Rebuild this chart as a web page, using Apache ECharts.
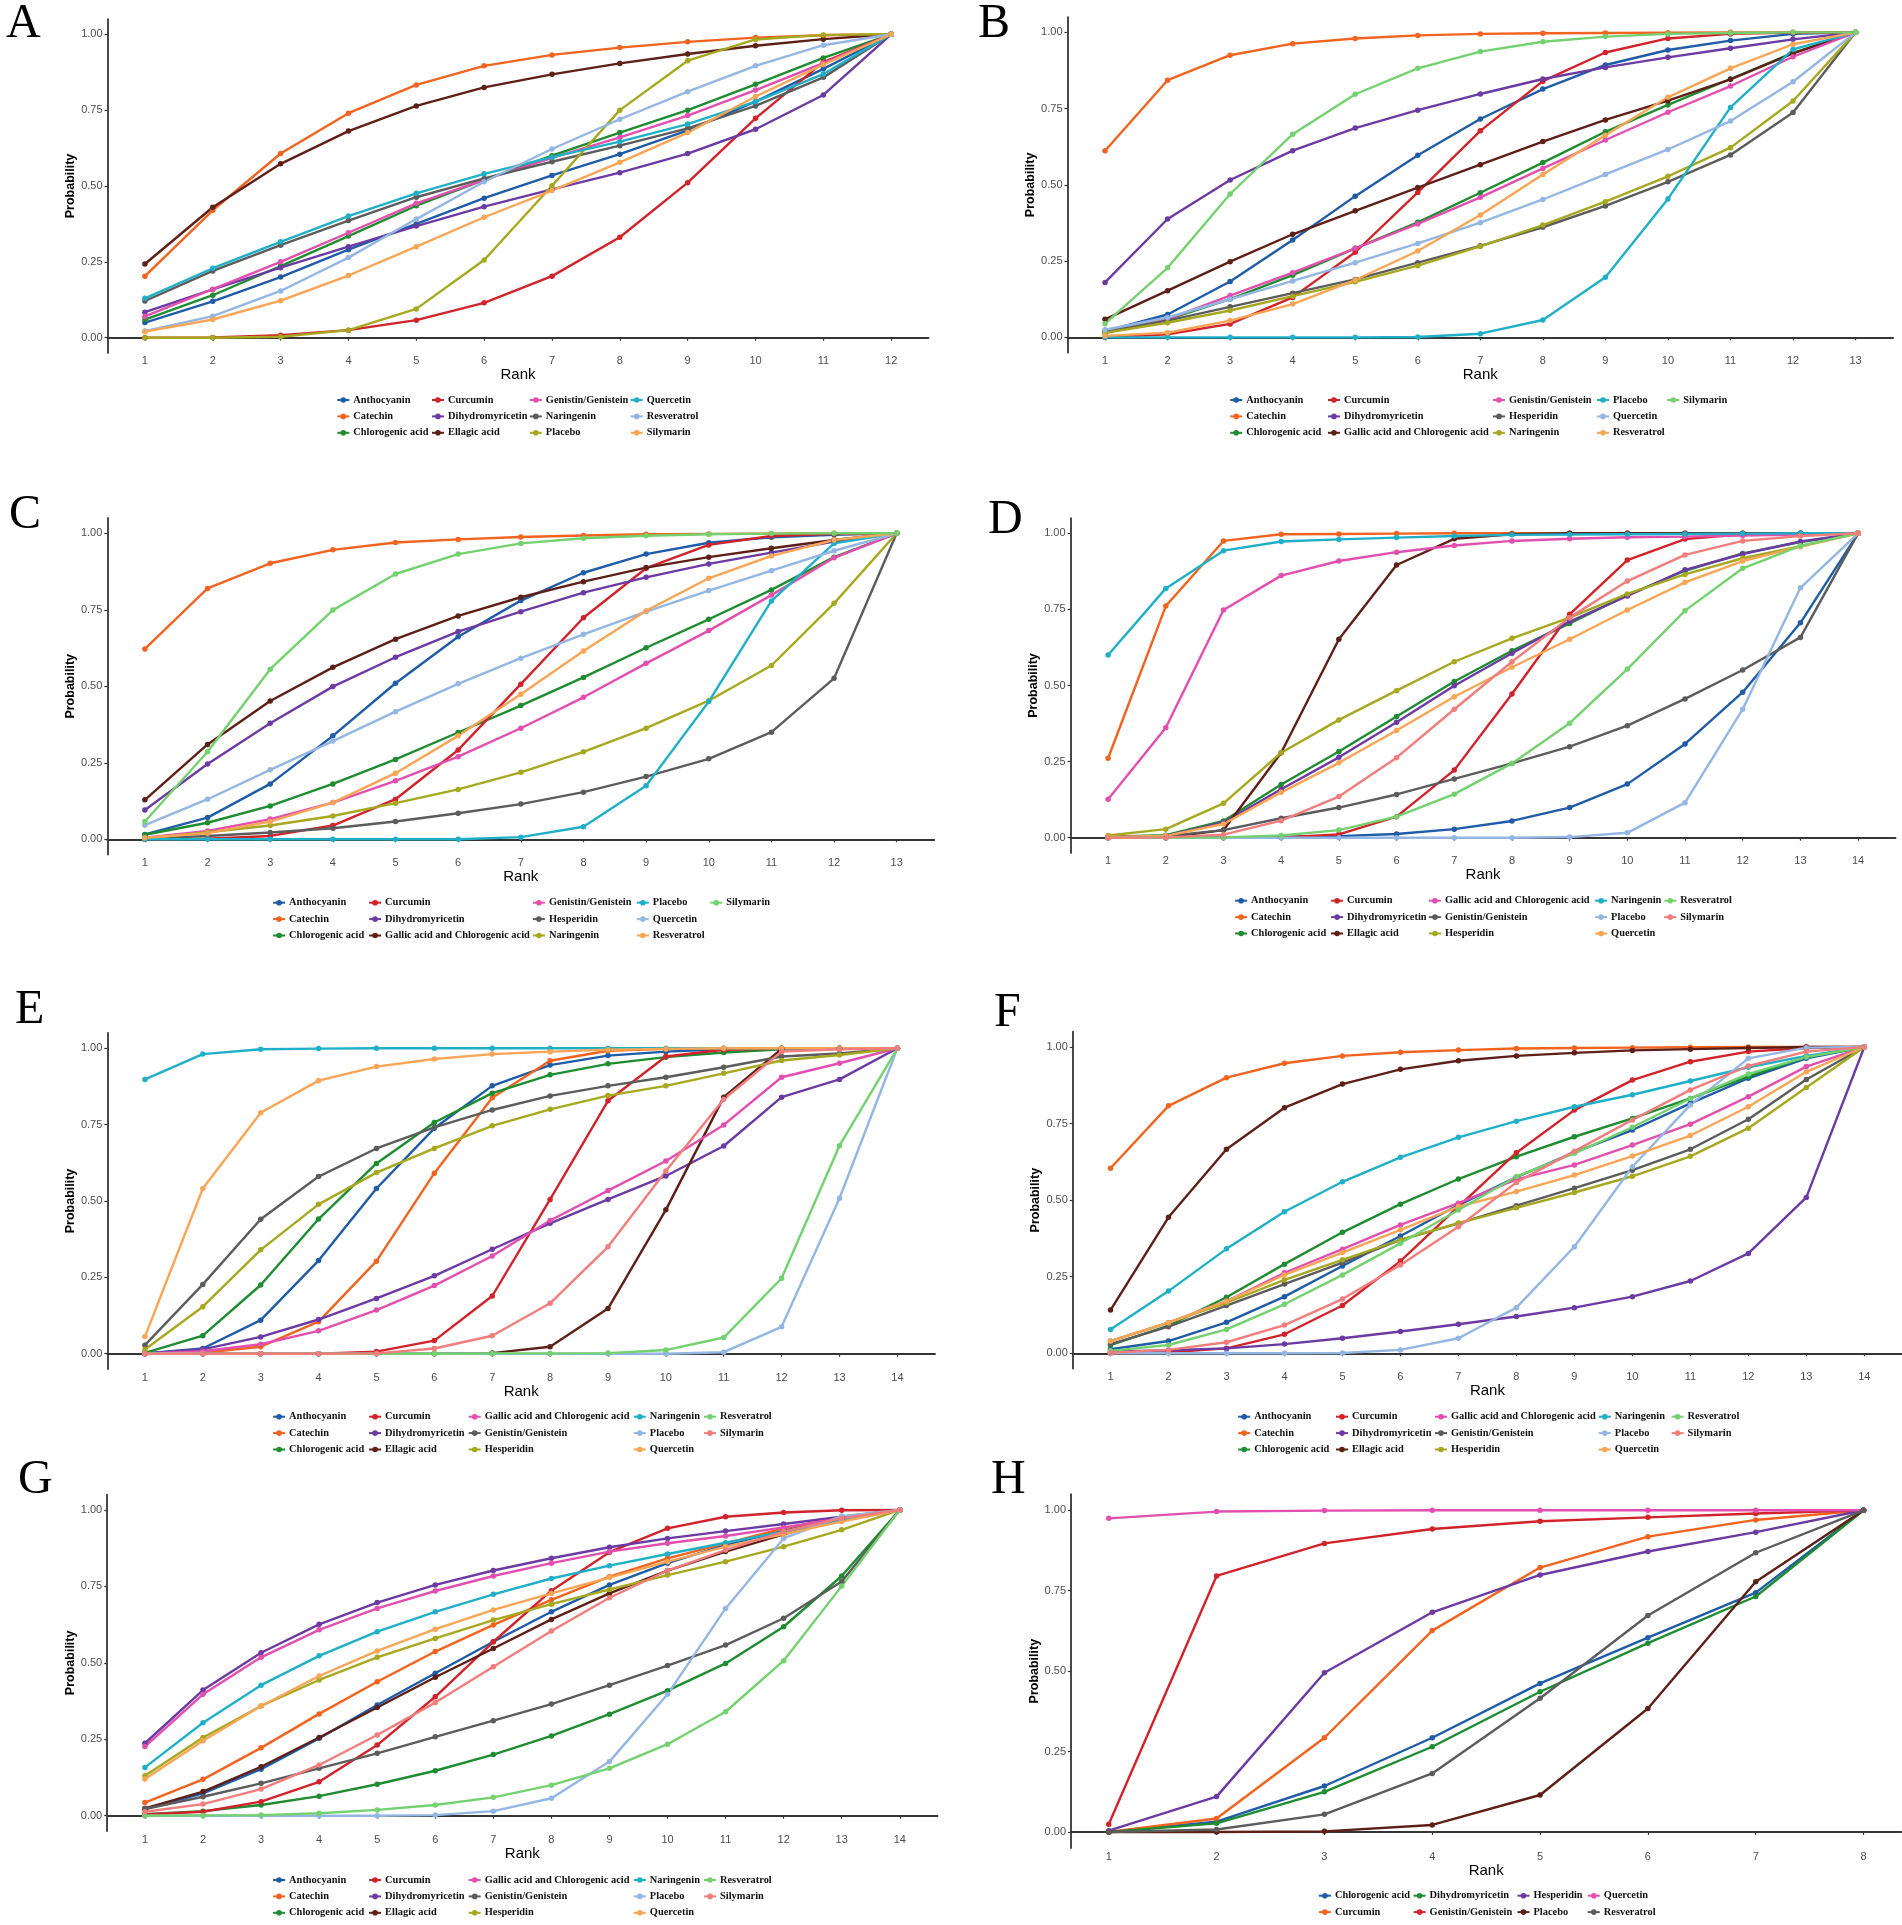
<!DOCTYPE html>
<html>
<head>
<meta charset="utf-8">
<script src="https://cdn.jsdelivr.net/npm/echarts@6/dist/echarts.min.js"></script>
<style>
html, body { margin: 0; padding: 0; background: #fff; overflow: hidden; }
#main { width: 1902px; height: 1925px; }
</style>
</head>
<body>
<div id="main"></div>
<script>
"use strict";

// colour order follows the alphabetical treatment order of each panel
var palette = ['#1F5CA8', '#F2631F', '#1E8C30', '#D2222A', '#6C3AA3', '#5E1F17', '#E24FAF',
	'#5C5C5C', '#A6A81F', '#1FB0C8', '#93B6E3', '#F8A555', '#74D16F', '#F27D7D'];

var yTicks = [0, 0.25, 0.5, 0.75, 1];

/* A : 12 treatments */
var ranksA = [1, 2, 3, 4, 5, 6, 7, 8, 9, 10, 11, 12];
var namesA = ['Anthocyanin', 'Catechin', 'Chlorogenic acid', 'Curcumin', 'Dihydromyricetin', 'Ellagic acid',
	'Genistin/Genistein', 'Naringenin', 'Placebo', 'Quercetin', 'Resveratrol', 'Silymarin'];
var valuesA = [
	[0.05, 0.12, 0.20, 0.29, 0.375, 0.46, 0.535, 0.605, 0.683, 0.778, 0.886, 1],
	[0.203, 0.42, 0.607, 0.74, 0.833, 0.896, 0.932, 0.956, 0.975, 0.989, 0.997, 1],
	[0.06, 0.14, 0.236, 0.335, 0.435, 0.52, 0.60, 0.676, 0.75, 0.835, 0.922, 1],
	[0.0, 0.001, 0.008, 0.025, 0.058, 0.115, 0.203, 0.331, 0.511, 0.723, 0.908, 1],
	[0.084, 0.159, 0.231, 0.30, 0.368, 0.432, 0.489, 0.544, 0.607, 0.687, 0.80, 1],
	[0.243, 0.43, 0.573, 0.681, 0.764, 0.825, 0.868, 0.904, 0.935, 0.962, 0.984, 1],
	[0.07, 0.16, 0.25, 0.346, 0.443, 0.52, 0.593, 0.66, 0.732, 0.816, 0.905, 1],
	[0.121, 0.22, 0.305, 0.386, 0.463, 0.525, 0.58, 0.633, 0.69, 0.764, 0.858, 1],
	[0.0, 0.0, 0.003, 0.025, 0.095, 0.256, 0.501, 0.75, 0.913, 0.983, 0.998, 1],
	[0.13, 0.229, 0.316, 0.401, 0.476, 0.54, 0.595, 0.646, 0.704, 0.778, 0.869, 1],
	[0.022, 0.071, 0.154, 0.264, 0.391, 0.514, 0.622, 0.72, 0.811, 0.896, 0.964, 1],
	[0.02, 0.06, 0.122, 0.205, 0.30, 0.397, 0.485, 0.578, 0.676, 0.795, 0.90, 1]
];

/* B : 13 treatments */
var ranksB = [1, 2, 3, 4, 5, 6, 7, 8, 9, 10, 11, 12, 13];
var namesB = ['Anthocyanin', 'Catechin', 'Chlorogenic acid', 'Curcumin', 'Dihydromyricetin',
	'Gallic acid and Chlorogenic acid', 'Genistin/Genistein', 'Hesperidin', 'Naringenin', 'Placebo',
	'Quercetin', 'Resveratrol', 'Silymarin'];
var valuesB = [
	[0.02, 0.075, 0.183, 0.319, 0.463, 0.597, 0.716, 0.814, 0.893, 0.942, 0.973, 0.995, 1],
	[0.612, 0.843, 0.925, 0.963, 0.98, 0.99, 0.995, 0.997, 0.998, 0.999, 1, 1, 1],
	[0.015, 0.059, 0.125, 0.204, 0.292, 0.377, 0.474, 0.573, 0.674, 0.762, 0.847, 0.933, 1],
	[0.0, 0.01, 0.044, 0.131, 0.279, 0.475, 0.677, 0.84, 0.934, 0.98, 0.995, 0.999, 1],
	[0.18, 0.388, 0.516, 0.612, 0.686, 0.745, 0.798, 0.847, 0.885, 0.918, 0.948, 0.977, 1],
	[0.059, 0.153, 0.248, 0.338, 0.415, 0.491, 0.566, 0.642, 0.713, 0.776, 0.846, 0.931, 1],
	[0.015, 0.06, 0.137, 0.212, 0.292, 0.372, 0.459, 0.554, 0.647, 0.738, 0.824, 0.92, 1],
	[0.02, 0.055, 0.10, 0.145, 0.19, 0.245, 0.30, 0.361, 0.431, 0.51, 0.598, 0.737, 1],
	[0.015, 0.048, 0.088, 0.135, 0.182, 0.235, 0.298, 0.368, 0.445, 0.528, 0.622, 0.775, 1],
	[0, 0, 0, 0, 0, 0.001, 0.012, 0.057, 0.197, 0.454, 0.754, 0.944, 1],
	[0.025, 0.065, 0.125, 0.185, 0.245, 0.308, 0.376, 0.452, 0.534, 0.616, 0.709, 0.838, 1],
	[0.005, 0.015, 0.055, 0.109, 0.188, 0.283, 0.401, 0.534, 0.663, 0.787, 0.882, 0.961, 1],
	[0.045, 0.228, 0.47, 0.666, 0.797, 0.882, 0.937, 0.969, 0.986, 0.995, 0.998, 1, 1]
];

/* C : 13 treatments */
var ranksC = [1, 2, 3, 4, 5, 6, 7, 8, 9, 10, 11, 12, 13];
var namesC = namesB.slice();
var valuesC = [
	[0.016, 0.071, 0.181, 0.338, 0.51, 0.662, 0.78, 0.871, 0.932, 0.969, 0.987, 0.995, 1],
	[0.622, 0.82, 0.902, 0.946, 0.97, 0.98, 0.988, 0.993, 0.997, 0.998, 0.999, 1, 1],
	[0.015, 0.054, 0.109, 0.181, 0.261, 0.349, 0.437, 0.529, 0.626, 0.719, 0.815, 0.922, 1],
	[0, 0.002, 0.011, 0.045, 0.131, 0.292, 0.507, 0.724, 0.886, 0.962, 0.991, 0.998, 1],
	[0.096, 0.246, 0.379, 0.499, 0.595, 0.679, 0.744, 0.806, 0.856, 0.9, 0.937, 0.973, 1],
	[0.129, 0.31, 0.452, 0.562, 0.654, 0.73, 0.791, 0.842, 0.888, 0.922, 0.951, 0.978, 1],
	[0.005, 0.027, 0.066, 0.12, 0.191, 0.27, 0.363, 0.464, 0.575, 0.682, 0.798, 0.92, 1],
	[0.003, 0.011, 0.022, 0.036, 0.058, 0.085, 0.115, 0.154, 0.205, 0.263, 0.35, 0.526, 1],
	[0.003, 0.023, 0.045, 0.076, 0.118, 0.163, 0.219, 0.286, 0.363, 0.453, 0.568, 0.771, 1],
	[0, 0, 0, 0, 0, 0, 0.007, 0.041, 0.175, 0.45, 0.779, 0.967, 1],
	[0.046, 0.131, 0.227, 0.321, 0.417, 0.508, 0.592, 0.67, 0.744, 0.813, 0.878, 0.943, 1],
	[0.005, 0.02, 0.058, 0.12, 0.216, 0.338, 0.474, 0.615, 0.747, 0.853, 0.926, 0.978, 1],
	[0.058, 0.286, 0.556, 0.749, 0.867, 0.932, 0.967, 0.984, 0.992, 0.997, 0.999, 1, 1]
];

/* D : 14 treatments */
var ranksD = [1, 2, 3, 4, 5, 6, 7, 8, 9, 10, 11, 12, 13, 14];
var namesD = ['Anthocyanin', 'Catechin', 'Chlorogenic acid', 'Curcumin', 'Dihydromyricetin', 'Ellagic acid',
	'Gallic acid and Chlorogenic acid', 'Genistin/Genistein', 'Hesperidin', 'Naringenin', 'Placebo',
	'Quercetin', 'Resveratrol', 'Silymarin'];
var valuesD = [
	[0, 0.001, 0.001, 0.003, 0.005, 0.012, 0.028, 0.055, 0.099, 0.176, 0.308, 0.478, 0.706, 1],
	[0.261, 0.761, 0.975, 0.997, 0.998, 0.999, 1, 1, 1, 1, 1, 1, 1, 1],
	[0.003, 0.008, 0.055, 0.175, 0.283, 0.398, 0.513, 0.614, 0.704, 0.797, 0.877, 0.934, 0.971, 1],
	[0, 0, 0, 0.001, 0.011, 0.069, 0.222, 0.472, 0.734, 0.912, 0.981, 0.997, 1, 1],
	[0.002, 0.006, 0.05, 0.159, 0.264, 0.379, 0.499, 0.606, 0.71, 0.794, 0.88, 0.932, 0.973, 1],
	[0, 0, 0.025, 0.279, 0.652, 0.896, 0.982, 0.997, 1, 1, 1, 1, 1, 1],
	[0.126, 0.361, 0.748, 0.861, 0.909, 0.938, 0.96, 0.975, 0.982, 0.987, 0.989, 0.993, 0.996, 1],
	[0.002, 0.005, 0.025, 0.064, 0.099, 0.142, 0.193, 0.244, 0.299, 0.368, 0.456, 0.551, 0.658, 1],
	[0.007, 0.028, 0.113, 0.279, 0.387, 0.483, 0.578, 0.655, 0.723, 0.801, 0.865, 0.918, 0.958, 1],
	[0.6, 0.819, 0.943, 0.973, 0.98, 0.986, 0.991, 0.995, 0.996, 0.997, 0.998, 0.999, 1, 1],
	[0, 0, 0, 0, 0, 0, 0, 0, 0.002, 0.016, 0.115, 0.422, 0.821, 1],
	[0.002, 0.006, 0.045, 0.149, 0.246, 0.352, 0.463, 0.56, 0.652, 0.748, 0.839, 0.909, 0.956, 1],
	[0, 0, 0.001, 0.007, 0.025, 0.069, 0.143, 0.244, 0.376, 0.554, 0.746, 0.885, 0.959, 1],
	[0, 0.001, 0.01, 0.056, 0.135, 0.263, 0.422, 0.578, 0.723, 0.843, 0.929, 0.975, 0.991, 1]
];

/* E : 14 treatments */
var ranksE = ranksD.slice();
var namesE = namesD.slice();
var valuesE = [
	[0.001, 0.017, 0.11, 0.305, 0.541, 0.738, 0.877, 0.945, 0.976, 0.989, 0.997, 1, 1, 1],
	[0, 0.003, 0.023, 0.105, 0.303, 0.591, 0.838, 0.959, 0.992, 0.998, 1, 1, 1, 1],
	[0.003, 0.059, 0.225, 0.441, 0.623, 0.757, 0.853, 0.913, 0.949, 0.971, 0.986, 0.997, 0.999, 1],
	[0, 0, 0, 0, 0.007, 0.043, 0.189, 0.505, 0.828, 0.973, 0.995, 0.999, 1, 1],
	[0.001, 0.014, 0.055, 0.112, 0.181, 0.255, 0.342, 0.427, 0.505, 0.582, 0.68, 0.84, 0.898, 1],
	[0, 0, 0, 0, 0, 0, 0.002, 0.023, 0.148, 0.471, 0.84, 0.998, 1, 1],
	[0, 0.008, 0.031, 0.075, 0.143, 0.223, 0.32, 0.436, 0.534, 0.631, 0.749, 0.905, 0.951, 1],
	[0.028, 0.227, 0.44, 0.58, 0.672, 0.741, 0.798, 0.844, 0.877, 0.905, 0.938, 0.973, 0.983, 1],
	[0.014, 0.154, 0.34, 0.489, 0.593, 0.672, 0.746, 0.80, 0.845, 0.877, 0.918, 0.96, 0.978, 1],
	[0.898, 0.981, 0.997, 0.999, 1, 1, 1, 1, 1, 1, 1, 1, 1, 1],
	[0, 0, 0, 0, 0, 0, 0, 0, 0, 0, 0.005, 0.088, 0.509, 1],
	[0.056, 0.541, 0.789, 0.894, 0.94, 0.965, 0.981, 0.989, 0.995, 0.998, 1, 1, 1, 1],
	[0, 0, 0, 0, 0, 0, 0.001, 0.001, 0.002, 0.012, 0.053, 0.247, 0.681, 1],
	[0, 0, 0, 0, 0.001, 0.017, 0.059, 0.165, 0.35, 0.598, 0.833, 0.989, 0.997, 1]
];

/* F : 14 treatments */
var ranksF = ranksD.slice();
var namesF = namesD.slice();
var valuesF = [
	[0.013, 0.04, 0.101, 0.185, 0.285, 0.383, 0.484, 0.575, 0.656, 0.729, 0.816, 0.898, 0.963, 1],
	[0.604, 0.808, 0.9, 0.947, 0.971, 0.983, 0.99, 0.995, 0.997, 0.998, 0.999, 1, 1, 1],
	[0.027, 0.09, 0.183, 0.291, 0.395, 0.487, 0.569, 0.642, 0.707, 0.767, 0.832, 0.903, 0.968, 1],
	[0, 0.003, 0.016, 0.062, 0.156, 0.301, 0.479, 0.655, 0.794, 0.892, 0.952, 0.985, 0.997, 1],
	[0.005, 0.01, 0.016, 0.03, 0.049, 0.071, 0.095, 0.12, 0.149, 0.185, 0.236, 0.326, 0.509, 1],
	[0.141, 0.444, 0.666, 0.802, 0.879, 0.927, 0.955, 0.971, 0.981, 0.989, 0.993, 0.997, 1, 1],
	[0.04, 0.10, 0.17, 0.263, 0.34, 0.419, 0.49, 0.568, 0.615, 0.68, 0.748, 0.838, 0.936, 1],
	[0.03, 0.087, 0.156, 0.226, 0.296, 0.37, 0.424, 0.482, 0.539, 0.598, 0.666, 0.764, 0.894, 1],
	[0.04, 0.10, 0.165, 0.24, 0.305, 0.37, 0.425, 0.475, 0.525, 0.578, 0.643, 0.735, 0.868, 1],
	[0.078, 0.203, 0.341, 0.462, 0.56, 0.64, 0.705, 0.758, 0.805, 0.844, 0.889, 0.934, 0.971, 1],
	[0, 0, 0, 0, 0.001, 0.011, 0.049, 0.149, 0.348, 0.609, 0.811, 0.963, 0.998, 1],
	[0.04, 0.10, 0.17, 0.256, 0.329, 0.403, 0.479, 0.528, 0.582, 0.644, 0.711, 0.805, 0.919, 1],
	[0.008, 0.027, 0.078, 0.16, 0.256, 0.359, 0.468, 0.577, 0.653, 0.738, 0.832, 0.912, 0.967, 1],
	[0.002, 0.011, 0.036, 0.092, 0.177, 0.288, 0.413, 0.558, 0.66, 0.762, 0.86, 0.938, 0.985, 1]
];

/* G : 14 treatments */
var ranksG = ranksD.slice();
var namesG = namesD.slice();
var valuesG = [
	[0.022, 0.073, 0.152, 0.253, 0.362, 0.466, 0.569, 0.667, 0.755, 0.826, 0.886, 0.932, 0.973, 1],
	[0.043, 0.119, 0.222, 0.333, 0.438, 0.537, 0.624, 0.706, 0.782, 0.842, 0.891, 0.94, 0.976, 1],
	[0.005, 0.015, 0.035, 0.064, 0.103, 0.147, 0.2, 0.261, 0.332, 0.409, 0.498, 0.618, 0.784, 1],
	[0.004, 0.013, 0.046, 0.111, 0.231, 0.389, 0.569, 0.736, 0.862, 0.94, 0.978, 0.992, 0.999, 1],
	[0.237, 0.411, 0.533, 0.626, 0.697, 0.755, 0.802, 0.842, 0.878, 0.907, 0.931, 0.954, 0.978, 1],
	[0.024, 0.079, 0.16, 0.256, 0.354, 0.453, 0.547, 0.642, 0.727, 0.802, 0.864, 0.92, 0.973, 1],
	[0.226, 0.397, 0.518, 0.608, 0.678, 0.735, 0.784, 0.826, 0.864, 0.891, 0.915, 0.943, 0.973, 1],
	[0.022, 0.062, 0.106, 0.155, 0.204, 0.258, 0.311, 0.365, 0.427, 0.491, 0.558, 0.646, 0.766, 1],
	[0.131, 0.256, 0.359, 0.444, 0.518, 0.58, 0.64, 0.692, 0.74, 0.787, 0.831, 0.88, 0.935, 1],
	[0.158, 0.304, 0.427, 0.523, 0.602, 0.667, 0.724, 0.776, 0.818, 0.856, 0.893, 0.929, 0.965, 1],
	[0, 0, 0, 0, 0, 0.002, 0.015, 0.057, 0.177, 0.397, 0.678, 0.907, 0.98, 1],
	[0.12, 0.245, 0.359, 0.457, 0.539, 0.61, 0.673, 0.727, 0.779, 0.831, 0.88, 0.921, 0.962, 1],
	[0, 0.001, 0.002, 0.008, 0.019, 0.035, 0.06, 0.1, 0.155, 0.234, 0.34, 0.507, 0.751, 1],
	[0.013, 0.038, 0.087, 0.166, 0.264, 0.37, 0.487, 0.604, 0.713, 0.802, 0.869, 0.929, 0.973, 1]
];

/* H : 8 treatments */
var ranksH = [1, 2, 3, 4, 5, 6, 7, 8];
var namesH = ['Chlorogenic acid', 'Curcumin', 'Dihydromyricetin', 'Genistin/Genistein', 'Hesperidin',
	'Placebo', 'Quercetin', 'Resveratrol'];
var valuesH = [
	[0, 0.032, 0.143, 0.293, 0.462, 0.604, 0.744, 1],
	[0, 0.042, 0.293, 0.626, 0.822, 0.918, 0.97, 1],
	[0, 0.027, 0.125, 0.265, 0.436, 0.587, 0.732, 1],
	[0.024, 0.796, 0.897, 0.942, 0.966, 0.978, 0.99, 1],
	[0.004, 0.11, 0.495, 0.683, 0.799, 0.872, 0.932, 1],
	[0, 0, 0.002, 0.022, 0.115, 0.384, 0.778, 1],
	[0.975, 0.996, 0.999, 1, 1, 1, 1, 1],
	[0, 0.008, 0.055, 0.182, 0.416, 0.673, 0.868, 1]
];

/*
 * panel placement on the 1902 x 1925 page
 */
var panels = [
	{ tag: 'A', ranks: ranksA, names: namesA, values: valuesA, box: [107.6, 19.1, 928.5, 352.9],
		legX: [342.3, 437, 534.8, 635.7], legY: 400, rows: 3, letter: [6, 0] },
	{ tag: 'B', ranks: ranksB, names: namesB, values: valuesB, box: [1067.5, 17.1, 1893.1, 352.6],
		legX: [1235.2, 1333, 1498, 1602, 1672.3], legY: 400, rows: 3, letter: [978, 0] },
	{ tag: 'C', ranks: ranksC, names: namesC, values: valuesC, box: [107.3, 518.0, 934.3, 854.6],
		legX: [278.1, 374.1, 537.9, 641.8, 715.2], legY: 902.7, rows: 3, letter: [9, 491] },
	{ tag: 'D', ranks: ranksD, names: namesD, values: valuesD, box: [1070.6, 518.1, 1895.6, 852.9],
		legX: [1240.1, 1336.1, 1433.9, 1600.1, 1669.2], legY: 900.7, rows: 3, letter: [988, 496] },
	{ tag: 'E', ranks: ranksE, names: namesE, values: valuesE, box: [107.3, 1033.0, 935.0, 1369.0],
		legX: [278.1, 374.1, 473.7, 638.8, 709], legY: 1416.7, rows: 3, letter: [15, 986] },
	{ tag: 'F', ranks: ranksF, names: namesF, values: valuesF, box: [1072.8, 1031.7, 1902.5, 1368.6],
		legX: [1243.2, 1341, 1440, 1603.8, 1676.6], legY: 1416.7, rows: 3, letter: [994, 989] },
	{ tag: 'G', ranks: ranksG, names: namesG, values: valuesG, box: [107.2, 1494.7, 937.5, 1831.0],
		legX: [278.1, 374.1, 473.7, 638.8, 709], legY: 1880, rows: 3, letter: [18, 1456] },
	{ tag: 'H', ranks: ranksH, names: namesH, values: valuesH, box: [1071.0, 1494.2, 1901.3, 1848.1],
		legX: [1323.9, 1418.6, 1522.5, 1592.8], legY: 1895.7, rows: 2, letter: [991, 1456] }
];

var axisColor = '#353535';
var sansFont = '"Liberation Sans", Arial, sans-serif';
var serifFont = '"Liberation Serif", "Times New Roman", serif';

var option = {
	animation: false,
	backgroundColor: '#ffffff',
	title: [],
	grid: [],
	xAxis: [],
	yAxis: [],
	legend: [],
	series: []
};

panels.forEach(function (p, i) {
	var n = p.ranks.length;
	var pad = 0.05 * (n - 1);

	option.title.push({
		text: p.tag, left: p.letter[0], top: p.letter[1], padding: 0,
		textStyle: { fontFamily: serifFont, fontSize: 48, fontWeight: 'normal', color: '#000' }
	});

	option.grid.push({
		left: p.box[0], top: p.box[1],
		width: p.box[2] - p.box[0], height: p.box[3] - p.box[1]
	});

	option.xAxis.push({
		gridIndex: i, type: 'value', min: 1 - pad, max: n + pad,
		name: 'Rank', nameLocation: 'middle', nameGap: 12,
		nameTextStyle: { fontFamily: sansFont, fontSize: 15, color: '#000' },
		axisLine: { show: true, lineStyle: { color: axisColor, width: 1.8 } },
		axisTick: { show: true, length: 3, customValues: p.ranks, lineStyle: { color: axisColor, width: 1.2 } },
		axisLabel: { customValues: p.ranks, margin: 3, fontFamily: sansFont, fontSize: 11, color: '#4d4d4d' },
		splitLine: { show: false }
	});

	option.yAxis.push({
		gridIndex: i, type: 'value', min: -0.05, max: 1.05,
		name: 'Probability', nameLocation: 'middle', nameGap: 27,
		nameTextStyle: { fontFamily: sansFont, fontSize: 12.5, fontWeight: 'bold', color: '#000' },
		axisLine: { show: true, lineStyle: { color: axisColor, width: 1.8 } },
		axisTick: { show: true, length: 3, customValues: yTicks, lineStyle: { color: axisColor, width: 1.2 } },
		axisLabel: {
			customValues: yTicks, margin: 5, fontFamily: sansFont, fontSize: 11, color: '#4d4d4d',
			formatter: function (v) { return v.toFixed(2); }
		},
		splitLine: { show: false }
	});

	// legend is filled column by column, like ggplot's guide
	for (var c = 0; c * p.rows < n; c++) {
		var col = p.names.slice(c * p.rows, (c + 1) * p.rows).map(function (nm) { return p.tag + '|' + nm; });
		option.legend.push({
			data: col, orient: 'vertical', left: p.legX[c] - 6, top: p.legY - 6,
			padding: 0, itemWidth: 12, itemHeight: 7, itemGap: 4.4, selectedMode: false,
			formatter: function (name) { return name.split('|')[1]; },
			textStyle: { fontFamily: serifFont, fontSize: 10.4, fontWeight: 'bold', lineHeight: 12, color: '#111', padding: [0, 0, 0, -1] }
		});
	}

	p.names.forEach(function (nm, k) {
		option.series.push({
			name: p.tag + '|' + nm,
			type: 'line',
			xAxisIndex: i,
			yAxisIndex: i,
			data: p.ranks.map(function (r, j) { return [r, p.values[k][j]]; }),
			symbol: 'circle',
			symbolSize: 5.5,
			color: palette[k],
			lineStyle: { width: 2.4, color: palette[k] },
			itemStyle: { color: palette[k] },
			emphasis: { disabled: true },
			silent: true
		});
	});
});

var myChart = echarts.init(document.getElementById('main'), null, { renderer: 'canvas' });
myChart.setOption(option);
</script>
</body>
</html>
